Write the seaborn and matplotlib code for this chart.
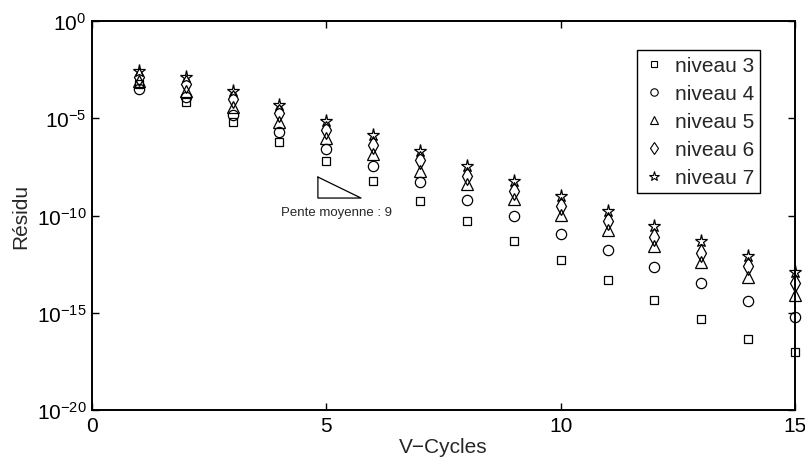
import pandas as pd
import matplotlib.pyplot as plt
import seaborn as sns
from matplotlib.lines import Line2D
from matplotlib.ticker import FixedLocator, NullLocator

# --- data (residual per V-cycle, per grid level) ---
v_cycles = list(range(1, 16))

niveau_3 = [5.8e-4, 6.6e-5, 6.2e-6, 6.2e-7, 6.2e-8, 6.2e-9, 5.4e-10, 5.4e-11,
            5.0e-12, 5.0e-13, 4.7e-14, 4.7e-15, 4.5e-16, 4.5e-17, 1.0e-17]
niveau_4 = [3.2e-4, 1.2e-4, 1.5e-5, 2.0e-6, 2.6e-7, 3.6e-8, 5.1e-9, 6.3e-10,
            9.3e-11, 1.1e-11, 1.6e-12, 2.2e-13, 3.2e-14, 4.1e-15, 5.8e-16]
niveau_5 = [8.5e-4, 2.6e-4, 3.6e-5, 6.2e-6, 9.3e-7, 1.4e-7, 2.0e-8, 4.2e-9,
            7.1e-10, 1.1e-10, 1.7e-11, 2.6e-12, 4.1e-13, 6.9e-14, 8.1e-15]
niveau_6 = [1.4e-3, 5.8e-4, 9.8e-5, 1.9e-5, 2.6e-6, 4.2e-7, 7.4e-8, 1.1e-8,
            1.9e-9, 3.0e-10, 5.0e-11, 7.8e-12, 1.2e-12, 2.5e-13, 3.4e-14]
niveau_7 = [2.8e-3, 1.3e-3, 2.6e-4, 5.0e-5, 7.4e-6, 1.3e-6, 2.1e-7, 3.6e-8,
            5.8e-9, 9.8e-10, 1.7e-10, 2.8e-11, 4.7e-12, 7.9e-13, 1.3e-13]

level_names = ['niveau 3', 'niveau 4', 'niveau 5', 'niveau 6', 'niveau 7']
level_values = [niveau_3, niveau_4, niveau_5, niveau_6, niveau_7]

x_ticks = [0, 5, 10, 15]
y_ticks = [1e-20, 1e-15, 1e-10, 1e-5, 1e0]

# slope triangle annotation
slope_tri_x = [4.82, 4.82, 5.74, 4.82]
slope_tri_y = [9.5e-9, 7.9e-10, 7.9e-10, 9.5e-9]
slope_text = 'Pente moyenne : 9'
slope_text_pos = (5.21, 1.5e-10)

# --- styles ---
marker_style = {
    'niveau 3': ('s', 5.6),
    'niveau 4': ('o', 7.4),
    'niveau 5': ('^', 8.0),
    'niveau 6': ('d', 9.0),
    'niveau 7': ('*', 9.5),
}

sns.set_style('ticks')
plt.rcParams['font.family'] = ['Liberation Sans', 'DejaVu Sans']
plt.rcParams['axes.edgecolor'] = 'black'
plt.rcParams['axes.linewidth'] = 1.4

fig = plt.figure(figsize=(8.05, 4.64), dpi=100)
ax = fig.add_axes([92 / 805, 1 - 411 / 464, (795 - 92) / 805, (411 - 22) / 464])
ax.set_yscale('log')

frames = []
for name, vals in zip(level_names, level_values):
    frames.append(pd.DataFrame({'V-Cycles': v_cycles, 'Residu': vals, 'niveau': name}))
df = pd.concat(frames, ignore_index=True)

handles = []
for name in level_names:
    mk, ms = marker_style[name]
    sub = df[df['niveau'] == name]
    sns.lineplot(data=sub, x='V-Cycles', y='Residu', ax=ax, linestyle='',
                 marker=mk, markersize=ms, mfc='none', mec='black', mew=0.9,
                 color='black', clip_on=False, zorder=3)
    handles.append(Line2D([], [], linestyle='', marker=mk, markersize=ms * 0.72,
                          mfc='none', mec='black', mew=0.8, label=name))

# slope triangle
ax.plot(slope_tri_x, slope_tri_y, color='black', lw=0.9)
ax.text(slope_text_pos[0], slope_text_pos[1], slope_text, fontsize=9.5,
        ha='center', va='center')

ax.set_xlim(0, 15)
ax.set_ylim(1e-20, 1e0)
ax.xaxis.set_major_locator(FixedLocator(x_ticks))
ax.yaxis.set_major_locator(FixedLocator(y_ticks))
ax.yaxis.set_minor_locator(NullLocator())
ax.xaxis.set_minor_locator(NullLocator())
ax.tick_params(direction='in', length=5, width=1, top=True, right=True,
               labelsize=15, colors='black', pad=4)

ax.set_xlabel('V\u2212Cycles', fontsize=15, labelpad=2)
ax.set_ylabel('Résidu', fontsize=15, labelpad=5)

leg = ax.legend(handles=handles, loc='upper right',
                bbox_to_anchor=((760 - 92) / (795 - 92), (411 - 51) / (411 - 22)),
                borderaxespad=0, fontsize=15, frameon=True, fancybox=False,
                handlelength=1.0, handletextpad=0.5, labelspacing=0.43,
                borderpad=0.3)
leg.get_frame().set_edgecolor('black')
leg.get_frame().set_linewidth(1.0)
leg.get_frame().set_alpha(1)

fig.savefig('out.png', dpi=100)
